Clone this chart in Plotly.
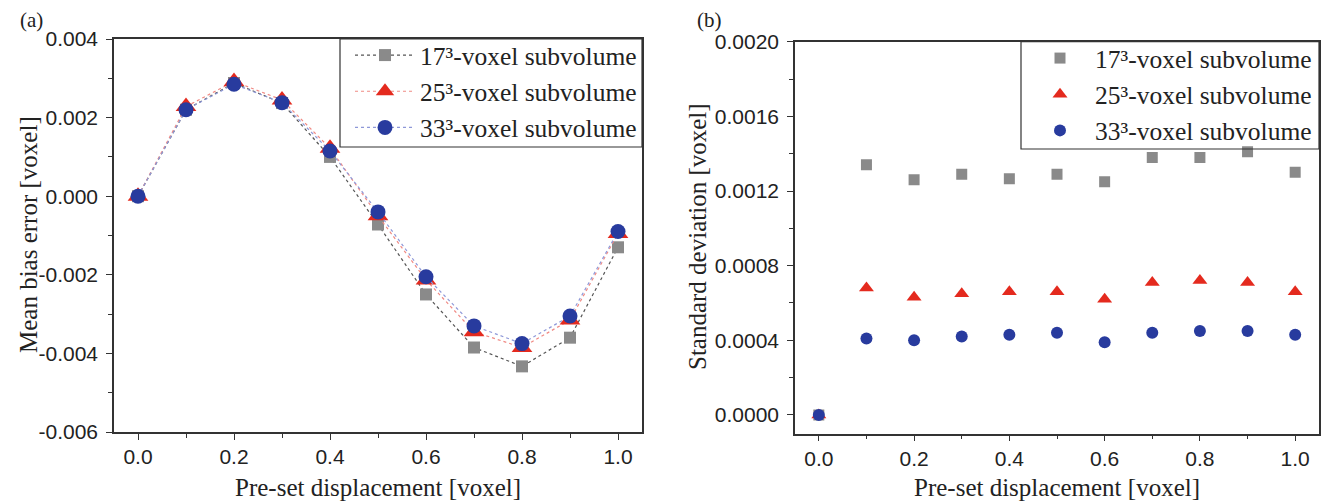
import plotly.graph_objects as go

# ---- data ----
displacement = [0.0, 0.1, 0.2, 0.3, 0.4, 0.5, 0.6, 0.7, 0.8, 0.9, 1.0]
series_names = ["17³-voxel subvolume", "25³-voxel subvolume", "33³-voxel subvolume"]

bias_17 = [0.0, 0.00220, 0.00288, 0.00237, 0.00100, -0.00072, -0.00250, -0.00385, -0.00433, -0.00360, -0.00130]
bias_25 = [0.0, 0.00228, 0.00292, 0.00245, 0.00122, -0.00050, -0.00213, -0.00345, -0.00385, -0.00315, -0.00095]
bias_33 = [0.0, 0.00220, 0.00285, 0.00238, 0.00115, -0.00040, -0.00205, -0.00330, -0.00375, -0.00305, -0.00090]

std_17 = [0.0, 0.00134, 0.00126, 0.00129, 0.001265, 0.00129, 0.00125, 0.00138, 0.00138, 0.00141, 0.00130]
std_25 = [0.0, 0.00068, 0.00063, 0.00065, 0.00066, 0.00066, 0.00062, 0.00071, 0.00072, 0.00071, 0.00066]
std_33 = [0.0, 0.00041, 0.00040, 0.00042, 0.00043, 0.00044, 0.00039, 0.00044, 0.00045, 0.00045, 0.00043]

x_ticks = [0.0, 0.2, 0.4, 0.6, 0.8, 1.0]
x_ticktext = ["0.0", "0.2", "0.4", "0.6", "0.8", "1.0"]
bias_ticks = [-0.006, -0.004, -0.002, 0.0, 0.002, 0.004]
bias_ticktext = ["-0.006", "-0.004", "-0.002", "0.000", "0.002", "0.004"]
std_ticks = [0.0, 0.0004, 0.0008, 0.0012, 0.0016, 0.0020]
std_ticktext = ["0.0000", "0.0004", "0.0008", "0.0012", "0.0016", "0.0020"]

x_title = "Pre-set displacement [voxel]"
y_title_a = "Mean bias error [voxel]"
y_title_b = "Standard deviation [voxel]"

marker_colors = ["#8a8a8a", "#e42a1e", "#283b9e"]
line_colors = ["#555555", "#f08a84", "#8e98d8"]
symbols = ["square", "triangle-up", "circle"]
left_sizes = [12, 18, 15]
right_sizes = [11, 13, 12]

SERIF = "Liberation Serif, Times New Roman, serif"
SANS = "Liberation Sans, Arial, sans-serif"
TXT = "#222222"

# page is drawn with an 8px body margin; figure fills the rest of the window
W, H, OFF = 1330, 494, 8


def fx(px):
    return (px - OFF) / W


def fy(py):
    return 1 - (py - OFF) / H


fig = go.Figure()

for name, ys, mc, lc, sym, sz in zip(series_names, [bias_17, bias_25, bias_33], marker_colors, line_colors, symbols, left_sizes):
    fig.add_trace(go.Scatter(
        x=displacement, y=ys, name=name, mode="lines+markers",
        line=dict(color=lc, width=1.2, dash="dot"),
        marker=dict(symbol=sym, size=sz, color=mc, line=dict(width=0)),
        xaxis="x", yaxis="y", legend="legend"))

for name, ys, mc, sym, sz in zip(series_names, [std_17, std_25, std_33], marker_colors, symbols, right_sizes):
    fig.add_trace(go.Scatter(
        x=displacement, y=ys, name=name, mode="markers",
        marker=dict(symbol=sym, size=sz, color=mc, line=dict(width=0)),
        xaxis="x2", yaxis="y2", legend="legend2"))

axis_common = dict(
    showline=True, linecolor="#333333", linewidth=1.5, mirror=True,
    ticks="outside", ticklen=6, tickwidth=1.3, tickcolor="#333333",
    showgrid=False, zeroline=False, automargin=False,
    tickfont=dict(family=SANS, size=21, color=TXT),
    minor=dict(ticks="outside", ticklen=4, tickwidth=1.2, tickcolor="#333333"),
)
title_font = dict(family=SERIF, size=25, color=TXT)
legend_font = dict(family=SERIF, size=25.5, color=TXT)

fig.update_layout(
    width=W, height=H,
    margin=dict(l=0, r=0, t=0, b=0, autoexpand=False),
    paper_bgcolor="white", plot_bgcolor="white",
    xaxis=dict(domain=[fx(114), fx(642)], range=[-0.05, 1.05], anchor="y",
               tickvals=x_ticks, ticktext=x_ticktext, ticklabelstandoff=-1,
               minor_dtick=0.1, minor_tick0=0, **axis_common),
    yaxis=dict(domain=[fy(432), fy(39)], range=[-0.006, 0.004], anchor="x",
               tickvals=bias_ticks, ticktext=bias_ticktext, ticklabelstandoff=4,
               minor_dtick=0.001, minor_tick0=0, **axis_common),
    xaxis2=dict(domain=[fx(795), fx(1319)], range=[-0.05, 1.05], anchor="y2",
                tickvals=x_ticks, ticktext=x_ticktext, ticklabelstandoff=-1,
                minor_dtick=0.1, minor_tick0=0, **axis_common),
    yaxis2=dict(domain=[fy(433.6), fy(41.7)], range=[-0.0001, 0.002], anchor="x2",
                tickvals=std_ticks, ticktext=std_ticktext, ticklabelstandoff=4,
                minor_dtick=0.0002, minor_tick0=0, **axis_common),
    legend=dict(x=fx(642), y=fy(32), xanchor="right", yanchor="top",
                borderwidth=0, bgcolor="rgba(0,0,0,0)",
                font=legend_font, itemwidth=60, tracegroupgap=0),
    legend2=dict(x=fx(1317), y=fy(35), xanchor="right", yanchor="top",
                 borderwidth=0, bgcolor="rgba(0,0,0,0)",
                 font=legend_font, itemwidth=60, tracegroupgap=0),
    shapes=[
        dict(type="rect", xref="paper", yref="paper",
             x0=fx(340), x1=fx(642), y0=fy(147), y1=fy(39),
             line=dict(color="#333333", width=1.2), fillcolor="rgba(0,0,0,0)", layer="above"),
        dict(type="rect", xref="paper", yref="paper",
             x0=fx(1021), x1=fx(1319), y0=fy(149), y1=fy(41.7),
             line=dict(color="#333333", width=1.2), fillcolor="rgba(0,0,0,0)", layer="above"),
    ],
    annotations=[
        dict(text="(a)", x=fx(31), y=fy(20), xref="paper", yref="paper",
             showarrow=False, xanchor="center", yanchor="middle",
             font=dict(family=SERIF, size=21, color=TXT)),
        dict(text="(b)", x=fx(709), y=fy(20), xref="paper", yref="paper",
             showarrow=False, xanchor="center", yanchor="middle",
             font=dict(family=SERIF, size=21, color=TXT)),
        dict(text=x_title, x=fx(378), y=fy(487), xref="paper", yref="paper",
             showarrow=False, xanchor="center", yanchor="middle", font=title_font),
        dict(text=x_title, x=fx(1057), y=fy(487), xref="paper", yref="paper",
             showarrow=False, xanchor="center", yanchor="middle", font=title_font),
        dict(text=y_title_a, x=fx(28), y=fy(235), xref="paper", yref="paper", textangle=-90,
             showarrow=False, xanchor="center", yanchor="middle", font=title_font),
        dict(text=y_title_b, x=fx(697), y=fy(237), xref="paper", yref="paper", textangle=-90,
             showarrow=False, xanchor="center", yanchor="middle", font=title_font),
    ],
)

fig.write_html("out.html")
